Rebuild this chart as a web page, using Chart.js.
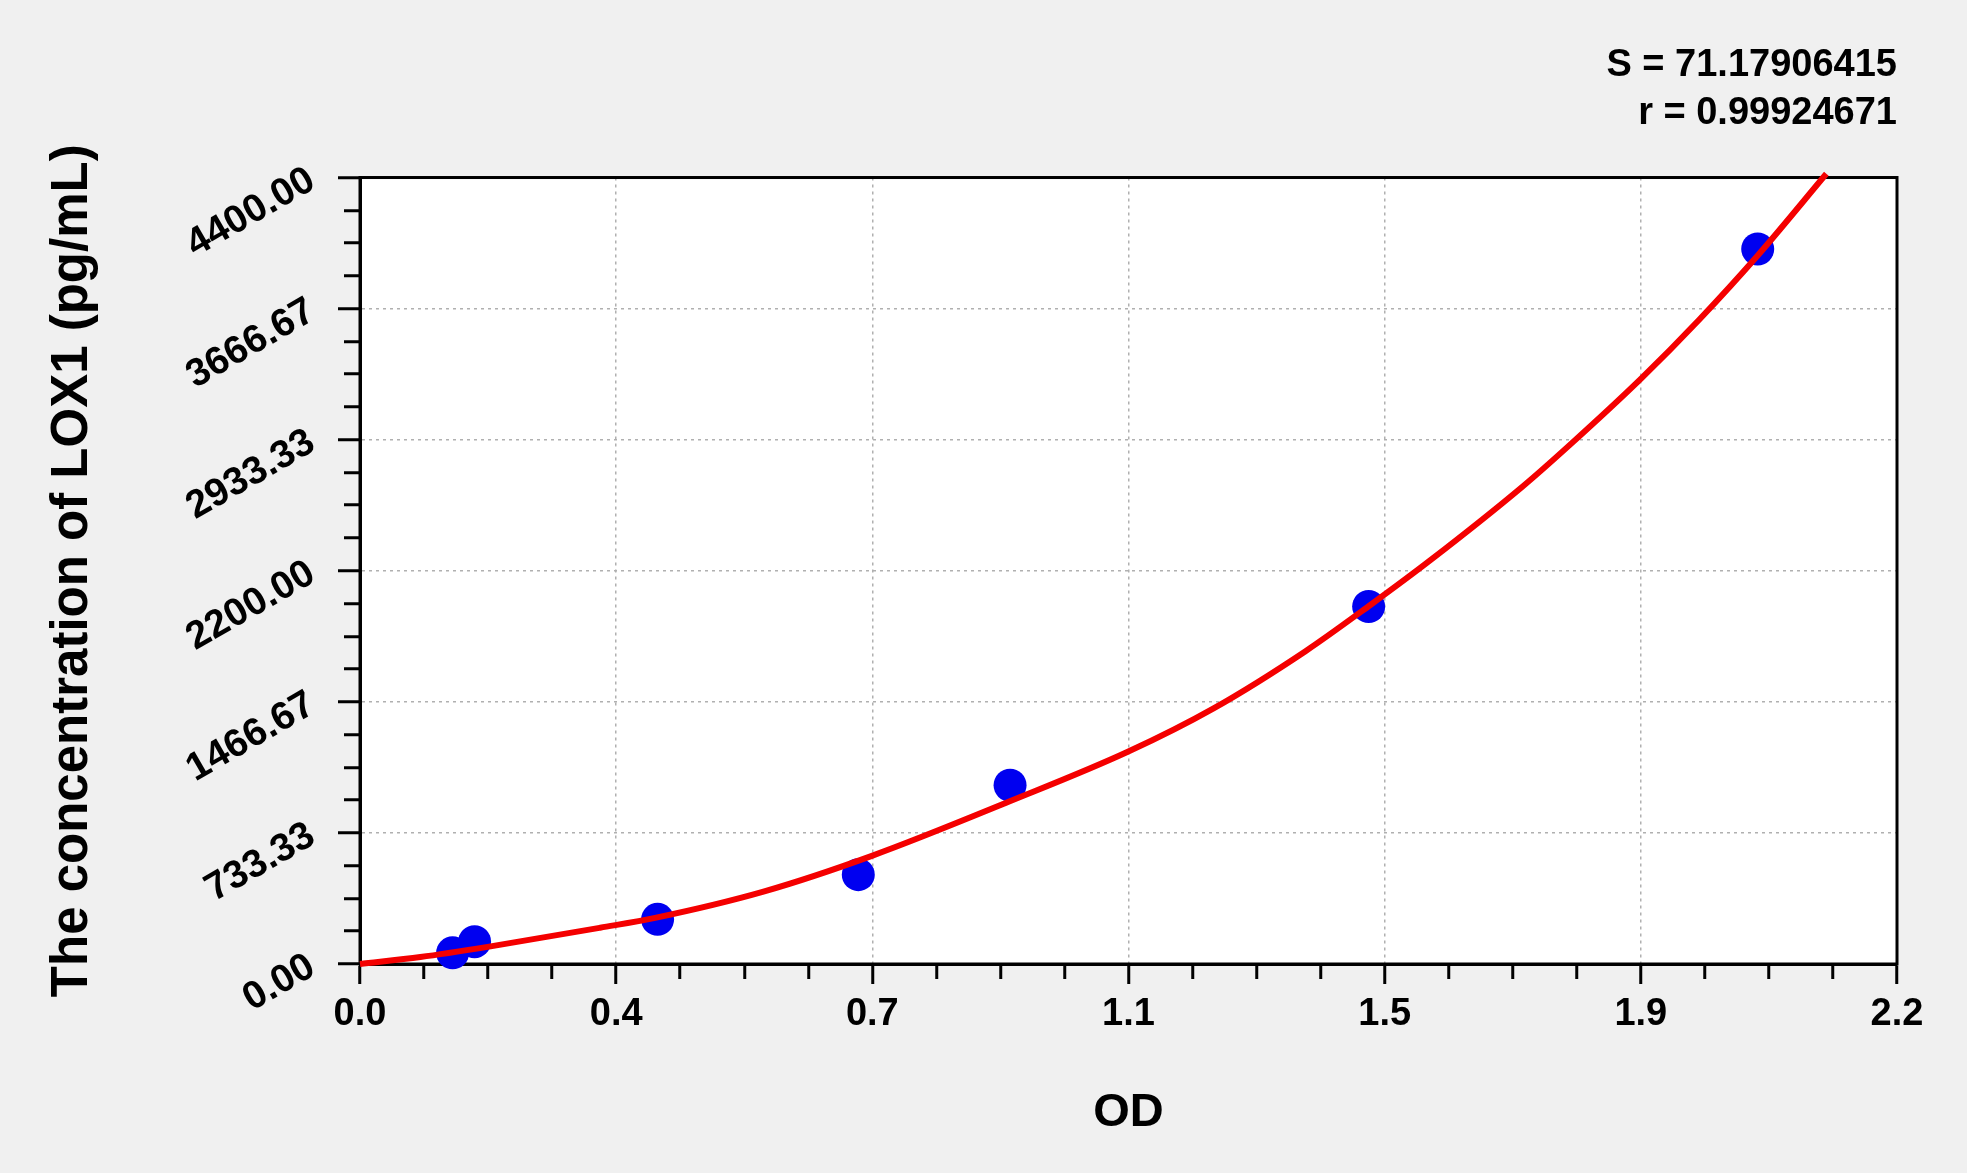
<!DOCTYPE html>
<html>
<head>
<meta charset="utf-8">
<title>LOX1 standard curve</title>
<script src="https://cdn.jsdelivr.net/npm/chart.js@4.4.1/dist/chart.umd.min.js"></script>
<style>
  html, body { margin: 0; padding: 0; background: #f0f0f0; overflow: hidden; }
  #wrap { width: 1967px; height: 1173px; position: relative; }
</style>
</head>
<body>
<div id="wrap"><canvas id="curve"></canvas></div>
<script>
// ─── standard points (OD vs concentration) ───────────────────────
const odValues   = [0.135, 0.167, 0.4337, 0.7262, 0.9474, 1.47, 2.037];
const concValues = [62.5, 125, 250, 500, 1000, 2000, 4000];

// ─── fitted curve ────────────────────────────────────────────────
const fitOD   = [0, 0.088, 0.186, 0.35, 0.43, 0.588, 0.746, 0.947, 1.119, 1.244,
                 1.378, 1.473, 1.56, 1.694, 1.762, 1.867, 1.952, 2.037, 2.137];
const fitConc = [0, 39, 96, 203, 258, 405, 605, 910, 1187, 1430,
                 1750, 2010, 2259, 2670, 2900, 3275, 3606, 3964, 4421];

// ─── axes ────────────────────────────────────────────────────────
const xTickLabels = ["0.0", "0.4", "0.7", "1.1", "1.5", "1.9", "2.2"];
const yTickLabels = ["0.00", "733.33", "1466.67", "2200.00", "2933.33", "3666.67", "4400.00"];
const xMax = 2.24;
const yMax = 4400;

const statLines = ["S = 71.17906415", "r = 0.99924671"];
const xTitle = "OD";
const yTitle = "The concentration of LOX1 (pg/mL)";

const FONT = "'Liberation Sans', Arial, sans-serif";
const MINOR = 4; // sub-intervals between labelled ticks

// evenly spaced tick values incl. minor ones
function tickValues(max, labelCount) {
  const n = (labelCount - 1) * MINOR;
  const out = [];
  for (let i = 0; i <= n; i++) out.push({ value: max * i / n });
  return out;
}

const isMajor = i => i % MINOR === 0;

// white plot area + black frame round it
const plotFrame = {
  id: "plotFrame",
  beforeDraw(chart) {
    const { ctx, chartArea: a } = chart;
    ctx.save();
    ctx.fillStyle = "#f0f0f0";
    ctx.fillRect(0, 0, chart.width, chart.height);
    ctx.fillStyle = "#ffffff";
    ctx.fillRect(a.left, a.top, a.right - a.left, a.bottom - a.top);
    ctx.restore();
  },
  beforeDatasetsDraw(chart) {
    const { ctx, chartArea: a } = chart;
    ctx.save();
    ctx.strokeStyle = "#000";
    ctx.lineWidth = 3;
    ctx.strokeRect(a.left, a.top, a.right - a.left, a.bottom - a.top);
    ctx.restore();
  }
};

const gridColor = c => isMajor(c.index) ? "#b0b0b0" : "rgba(0,0,0,0)";

new Chart(document.getElementById("curve"), {
  type: "scatter",
  data: {
    datasets: [
      {
        // first dataset is drawn on top
        data: fitOD.map((x, i) => ({ x, y: fitConc[i] })),
        showLine: true,
        borderColor: "#f40000",
        borderWidth: 6,
        pointRadius: 0,
        tension: 0.4,
        cubicInterpolationMode: "monotone",
        clip: 10
      },
      {
        data: odValues.map((x, i) => ({ x, y: concValues[i] })),
        pointRadius: 16.5,
        pointBackgroundColor: "#0000f0",
        pointBorderColor: "#0000f0",
        pointBorderWidth: 0,
        clip: 20
      }
    ]
  },
  options: {
    responsive: true,
    maintainAspectRatio: false,
    devicePixelRatio: 1,
    animation: false,
    layout: { padding: { left: 0, right: 70, top: 0, bottom: 0 } },
    plugins: {
      legend: { display: false },
      tooltip: { enabled: false },
      title: {
        display: true,
        text: statLines,
        align: "end",
        color: "#000",
        font: { family: FONT, size: 38, weight: "bold", lineHeight: 1.27 },
        padding: { top: 41, bottom: 40 }
      }
    },
    scales: {
      x: {
        type: "linear",
        min: 0,
        max: xMax,
        afterBuildTicks: s => { s.ticks = tickValues(xMax, xTickLabels.length); },
        afterFit: s => { s.height = 209; },
        ticks: {
          autoSkip: false,
          minRotation: 0,
          maxRotation: 0,
          padding: 8,
          color: "#000",
          font: { family: FONT, size: 38, weight: "bold" },
          callback: (v, i) => isMajor(i) ? xTickLabels[i / MINOR] : ""
        },
        grid: {
          color: gridColor,
          lineWidth: 1.5,
          tickLength: 20,
          tickColor: "#000",
          tickWidth: 3,
          tickBorderDash: c => isMajor(c.index) ? [] : [13, 100]
        },
        border: { display: true, color: "#000", width: 3, dash: [3, 4] },
        title: {
          display: true,
          text: xTitle,
          color: "#000",
          font: { family: FONT, size: 47, weight: "bold" },
          padding: { top: 0, bottom: 32 }
        }
      },
      y: {
        type: "linear",
        min: 0,
        max: yMax,
        afterBuildTicks: s => { s.ticks = tickValues(yMax, yTickLabels.length); },
        afterFit: s => { s.width = 360; },
        ticks: {
          autoSkip: false,
          minRotation: 30,
          maxRotation: 30,
          padding: 26,
          color: "#000",
          font: { family: FONT, size: 39, weight: "bold" },
          callback: (v, i) => isMajor(i) ? yTickLabels[i / MINOR] : ""
        },
        grid: {
          color: gridColor,
          lineWidth: 1.5,
          tickLength: 22,
          tickColor: "#000",
          tickWidth: 3,
          tickBorderDash: c => isMajor(c.index) ? [] : [0, 6, 100, 0]
        },
        border: { display: true, color: "#000", width: 3, dash: [3, 4] },
        title: {
          display: true,
          text: yTitle,
          color: "#000",
          font: { family: FONT, size: 51, weight: "bold" },
          padding: { top: 42, bottom: 0 }
        }
      }
    }
  },
  plugins: [plotFrame]
});
</script>
</body>
</html>
